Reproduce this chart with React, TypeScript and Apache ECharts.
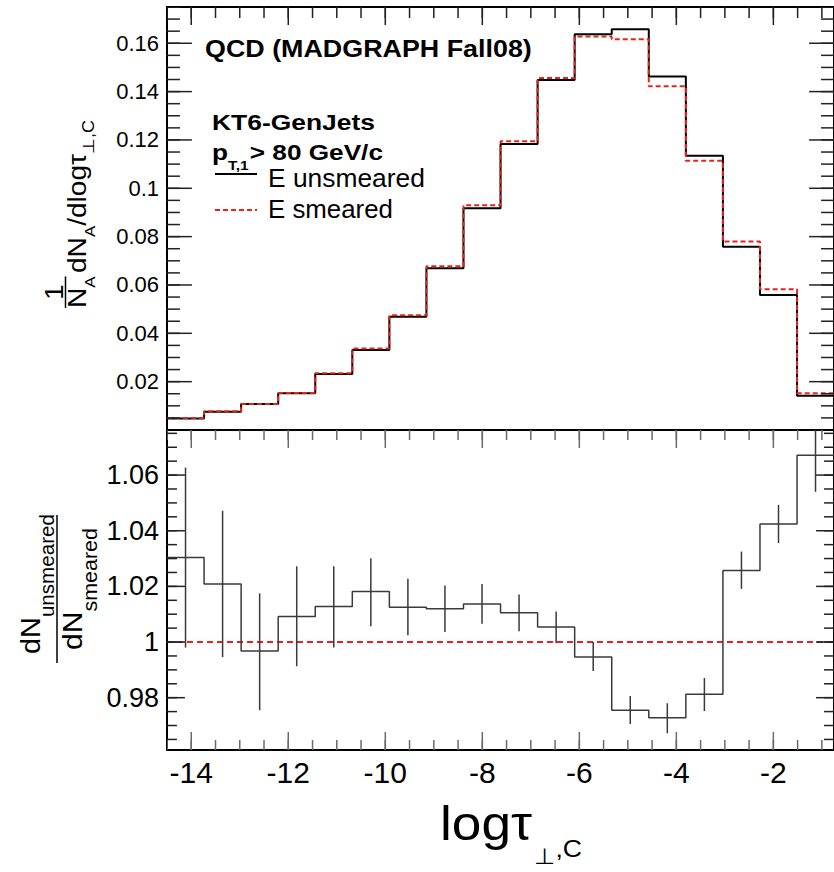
import React, { useEffect, useRef } from 'react';
import * as echarts from 'echarts';

// ---------------- data ----------------
const binEdges = [-14.5, -13.736, -12.972, -12.208, -11.444, -10.68, -9.916, -9.152, -8.388, -7.624, -6.86, -6.096, -5.332, -4.568, -3.804, -3.04, -2.276, -1.512, -0.75];
const unsmeared = [0.0048, 0.0076, 0.0108, 0.0152, 0.0232, 0.0331, 0.0469, 0.0669, 0.0917, 0.1183, 0.1448, 0.1637, 0.1658, 0.1462, 0.1135, 0.0758, 0.0558, 0.0142];
const smeared = [0.00495, 0.00776, 0.01077, 0.01534, 0.0235, 0.0337, 0.0475, 0.0677, 0.093, 0.1195, 0.1456, 0.1628, 0.1617, 0.1422, 0.1114, 0.078, 0.0582, 0.0152];
const ratio = [1.0304, 1.0209, 0.9968, 1.0092, 1.0128, 1.0182, 1.0125, 1.012, 1.0137, 1.0105, 1.0054, 0.9946, 0.9755, 0.9728, 0.9812, 1.0257, 1.0424, 1.0671];
const ratioLow = [0.998, 0.9946, 0.9755, 0.9913, 0.998, 1.0057, 1.0024, 1.0036, 1.0066, 1.0039, 0.9996, 0.9896, 0.9705, 0.9672, 0.9752, 1.0191, 1.0356, 1.054];
const ratioHigh = [1.0627, 1.0472, 1.0175, 1.0272, 1.0272, 1.0301, 1.0227, 1.0203, 1.0209, 1.0171, 1.011, 1.0, 0.9806, 0.978, 0.9871, 1.0325, 1.0493, 1.08];

const xMajorTicks = [-14, -12, -10, -8, -6, -4, -2];
const topYLabels = [0.02, 0.04, 0.06, 0.08, 0.1, 0.12, 0.14, 0.16];
const bottomYLabels = [0.98, 1, 1.02, 1.04, 1.06];

const X_MIN = -14.5;
const X_MAX = -0.75;
const TOP_Y_MIN = 0;
const TOP_Y_MAX = 0.175;
const BOT_Y_MIN = 0.9612;
const BOT_Y_MAX = 1.0762;

function range(a: number, b: number, step: number) {
  const out: number[] = [];
  for (let v = a; v <= b + 1e-9; v += step) out.push(+v.toFixed(4));
  return out;
}
const xMinorTicks = range(-14.5, -1, 0.5);
const topYMinor = range(0.005, 0.175, 0.005);
const bottomYMinor = range(0.965, 1.075, 0.005);

// ---------------- layout ----------------
const GRID_LEFT = 167;
const GRID_WIDTH = 670;
const TOP_GRID = { top: 7, height: 423 };
const BOT_GRID = { top: 430, height: 320 };
// data units per pixel, to express tick lengths (in px) along each axis
const X_PER_PX = (X_MAX - X_MIN) / GRID_WIDTH;
const TOP_Y_PER_PX = (TOP_Y_MAX - TOP_Y_MIN) / TOP_GRID.height;
const BOT_Y_PER_PX = (BOT_Y_MAX - BOT_Y_MIN) / BOT_GRID.height;

// ---------------- text helpers ----------------
const FONT = "'Liberation Sans', Arial, Helvetica, sans-serif";
const RED = '#e8231e';
let mctx: CanvasRenderingContext2D | null = null;
function measure(t: string, size: number, bold = false) {
  if (!mctx) mctx = document.createElement('canvas').getContext('2d');
  if (!mctx) return t.length * size * 0.55;
  mctx.font = `${bold ? 'bold ' : ''}${size}px ${FONT}`;
  return mctx.measureText(t).width;
}
type Part = { t: string; size: number; bold?: boolean; dy?: number; dx?: number };
function textEl(p: Part, x: number, color: string) {
  const font = `${p.bold ? 'bold ' : ''}${p.size}px ${FONT}`;
  return {
    type: 'text',
    x,
    y: (p.dy || 0) - 0.3465 * p.size,
    silent: true,
    style: {
      text: p.t,
      font,
      fill: color,
      textAlign: 'left',
      textVerticalAlign: 'middle',
      align: 'left',
      verticalAlign: 'middle',
    },
  };
}
function runParts(parts: Part[], startX: number, color = '#000') {
  let x = startX;
  const children: any[] = [];
  for (const p of parts) {
    x += p.dx || 0;
    children.push(textEl(p, x, color));
    x += measure(p.t, p.size, !!p.bold);
  }
  return { children, end: x };
}
function runGroup(parts: Part[], x: number, y: number, target: number | null, rotate = false) {
  const r = runParts(parts, 0);
  const s = target ? target / r.end : 1;
  return {
    type: 'group',
    x,
    y,
    rotation: rotate ? Math.PI / 2 : 0,
    scaleX: s,
    silent: true,
    children: r.children,
  };
}

function buildTopYTitle() {
  const wN = measure('N', 25);
  const wA = measure('A', 15);
  const fw = wN + wA;
  const w1 = measure('1', 25);
  const children: any[] = [];
  children.push(textEl({ t: '1', size: 25, dy: -23 }, (fw - w1) / 2, '#000'));
  children.push({
    type: 'line',
    silent: true,
    shape: { x1: 0, y1: -20.5, x2: fw, y2: -20.5 },
    style: { stroke: '#000', lineWidth: 1.5 },
  });
  children.push(textEl({ t: 'N', size: 25 }, 0, '#000'));
  children.push(textEl({ t: 'A', size: 15, dy: 9 }, wN, '#000'));
  const r = runParts(
    [
      { t: 'dN', size: 25 },
      { t: 'A', size: 15, dy: 9 },
      { t: '/dlogτ', size: 25 },
      { t: '⊥,C', size: 16, dy: 8 },
    ],
    fw + 3
  );
  children.push(...r.children);
  return {
    type: 'group',
    x: 86,
    y: 308,
    rotation: Math.PI / 2,
    scaleX: 188 / r.end,
    silent: true,
    children,
  };
}

function buildBottomYTitle() {
  const num = runParts([{ t: 'dN', size: 28 }, { t: 'unsmeared', size: 20, dy: 14 }], 0);
  const den = runParts([{ t: 'dN', size: 28 }, { t: 'smeared', size: 20, dy: 15 }], 0);
  const numLen = 140;
  const denLen = 122;
  return [
    {
      type: 'group', x: 40, y: 584 + numLen / 2, rotation: Math.PI / 2, scaleX: numLen / num.end, silent: true,
      children: num.children,
    },
    {
      type: 'group', x: 82, y: 589 + denLen / 2, rotation: Math.PI / 2, scaleX: denLen / den.end, silent: true,
      children: den.children,
    },
    {
      type: 'line', silent: true,
      shape: { x1: 57, y1: 515, x2: 57, y2: 663 },
      style: { stroke: '#000', lineWidth: 1.5 },
    },
  ];
}

function buildBaseGraphics(): any[] {
  return [
    runGroup([{ t: 'QCD (MADGRAPH Fall08)', size: 23, bold: true }], 205, 57, 327),
    runGroup([{ t: 'KT6-GenJets', size: 22, bold: true }], 212, 130, 163),
    runGroup(
      [
        { t: 'p', size: 22, bold: true },
        { t: 'T,1', size: 13, bold: true, dy: 10 },
        { t: '> 80 GeV/c', size: 22, bold: true, dx: 1 },
      ],
      212,
      160,
      171
    ),
    {
      type: 'line', silent: true,
      shape: { x1: 215, y1: 174, x2: 257, y2: 174 },
      style: { stroke: '#000', lineWidth: 2 },
    },
    runGroup([{ t: 'E unsmeared', size: 25 }], 268, 187, 157),
    {
      type: 'line', silent: true,
      shape: { x1: 215, y1: 210, x2: 257, y2: 210 },
      style: { stroke: RED, lineWidth: 2, lineDash: [5, 3] },
    },
    runGroup([{ t: 'E smeared', size: 25 }], 268, 218, 125),
    buildTopYTitle(),
    ...buildBottomYTitle(),
    runGroup(
      [
        { t: 'logτ', size: 48 },
        { t: '⊥', size: 22, dy: 24, dx: 2 },
        { t: ',C', size: 24, dy: 17 },
      ],
      440,
      840,
      142
    ),
  ];
}

// ---------------- axes helpers ----------------
const frameLine = { show: true, onZero: false, lineStyle: { color: '#000', width: 2 } };
function ax(gridIndex: number, position: string, min: number, max: number, extra: any = {}) {
  return {
    type: 'value',
    gridIndex,
    position,
    min,
    max,
    splitLine: { show: false },
    axisLine: { show: false, onZero: false },
    axisTick: { show: false },
    axisLabel: { show: false },
    ...extra,
  };
}
const fmt = (v: number) => String(+v.toFixed(3));

function stepData(vals: number[]) {
  return binEdges.map((e, i) => [e, vals[Math.min(i, vals.length - 1)]]);
}

// ---- tick marks as custom series, both ends mapped through the axes (like the error bars) ----
// vertical segments: [x, y1, y2]
function vSegSeries(xAxisIndex: number, yAxisIndex: number, data: number[][], color: string) {
  return {
    name: 'xticks',
    type: 'custom',
    xAxisIndex,
    yAxisIndex,
    clip: true,
    z: 5,
    data,
    encode: { x: 0, y: [1, 2] },
    renderItem: (params: any, api: any) => {
      const p1 = api.coord([api.value(0), api.value(1)]);
      const p2 = api.coord([api.value(0), api.value(2)]);
      return {
        type: 'line',
        shape: { x1: p1[0], y1: p1[1], x2: p2[0], y2: p2[1] },
        style: { stroke: color, lineWidth: 1.5 },
      };
    },
  };
}
// horizontal segments: [x1, x2, y]
function hSegSeries(xAxisIndex: number, yAxisIndex: number, data: number[][], color: string) {
  return {
    name: 'yticks',
    type: 'custom',
    xAxisIndex,
    yAxisIndex,
    clip: true,
    z: 5,
    data,
    encode: { x: [0, 1], y: 2 },
    renderItem: (params: any, api: any) => {
      const p1 = api.coord([api.value(0), api.value(2)]);
      const p2 = api.coord([api.value(1), api.value(2)]);
      return {
        type: 'line',
        shape: { x1: p1[0], y1: p1[1], x2: p2[0], y2: p2[1] },
        style: { stroke: color, lineWidth: 1.5 },
      };
    },
  };
}
function xTickData(yMin: number, yMax: number, yPerPx: number, majLen: number, minLen: number, bottomToo: boolean) {
  const out: number[][] = [];
  const add = (v: number, len: number) => {
    out.push([v, yMax, yMax - len * yPerPx]);
    if (bottomToo) out.push([v, yMin, yMin + len * yPerPx]);
  };
  xMinorTicks.forEach((v) => add(v, minLen));
  xMajorTicks.forEach((v) => add(v, majLen));
  return out;
}
function yTickData(majors: number[], minors: number[], majLen: number, minLen: number) {
  const out: number[][] = [];
  const add = (v: number, len: number) => {
    out.push([X_MIN, X_MIN + len * X_PER_PX, v]);
    out.push([X_MAX, X_MAX - len * X_PER_PX, v]);
  };
  minors.forEach((v) => add(v, minLen));
  majors.forEach((v) => add(v, majLen));
  return out;
}

export default function App() {
  const ref = useRef<HTMLDivElement>(null);
  useEffect(() => {
    if (!ref.current) return;
    const chart = echarts.init(ref.current, undefined, { renderer: 'svg' });

    const option: any = {
      animation: false,
      backgroundColor: '#fff',
      grid: [
        { left: GRID_LEFT, top: TOP_GRID.top, width: GRID_WIDTH, height: TOP_GRID.height },
        { left: GRID_LEFT, top: BOT_GRID.top, width: GRID_WIDTH, height: BOT_GRID.height },
      ],
      xAxis: [
        ax(0, 'bottom', X_MIN, X_MAX, { axisLine: frameLine }),
        ax(0, 'top', X_MIN, X_MAX, { axisLine: frameLine }),
        ax(1, 'bottom', X_MIN, X_MAX, {
          axisLine: frameLine,
          axisLabel: { show: true, customValues: xMajorTicks, fontSize: 30, fontFamily: FONT, color: '#000', margin: 7, formatter: fmt },
        }),
      ],
      yAxis: [
        ax(0, 'left', TOP_Y_MIN, TOP_Y_MAX, {
          axisLine: frameLine,
          axisLabel: { show: true, customValues: topYLabels, fontSize: 22, fontFamily: FONT, color: '#000', margin: 8, formatter: fmt },
        }),
        ax(0, 'right', TOP_Y_MIN, TOP_Y_MAX, { axisLine: frameLine }),
        ax(1, 'left', BOT_Y_MIN, BOT_Y_MAX, {
          axisLine: frameLine,
          axisLabel: { show: true, customValues: bottomYLabels, fontSize: 27, fontFamily: FONT, color: '#000', margin: 8, formatter: fmt },
        }),
        ax(1, 'right', BOT_Y_MIN, BOT_Y_MAX, { axisLine: frameLine }),
      ],
      series: [
        {
          name: 'E unsmeared',
          type: 'line',
          xAxisIndex: 0,
          yAxisIndex: 0,
          step: 'end',
          symbol: 'none',
          data: stepData(unsmeared),
          lineStyle: { color: '#000', width: 2 },
          z: 3,
          clip: true,
        },
        {
          name: 'E smeared',
          type: 'line',
          xAxisIndex: 0,
          yAxisIndex: 0,
          step: 'end',
          symbol: 'none',
          data: stepData(smeared),
          lineStyle: { color: RED, width: 2, type: [5, 3] },
          z: 4,
          clip: true,
        },
        {
          name: 'ratio',
          type: 'line',
          xAxisIndex: 2,
          yAxisIndex: 2,
          step: 'end',
          symbol: 'none',
          data: stepData(ratio),
          lineStyle: { color: '#3a3a3a', width: 1.5 },
          z: 3,
          clip: true,
          markLine: {
            silent: true,
            symbol: ['none', 'none'],
            label: { show: false },
            lineStyle: { color: RED, width: 2, type: [6, 4] },
            data: [{ yAxis: 1 }],
            z: 2,
          },
        },
        {
          name: 'ratio errors',
          type: 'custom',
          xAxisIndex: 2,
          yAxisIndex: 2,
          clip: true,
          z: 3,
          data: ratio.map((_, i) => [(binEdges[i] + binEdges[i + 1]) / 2, ratioLow[i], ratioHigh[i]]),
          encode: { x: 0, y: [1, 2] },
          renderItem: (params: any, api: any) => {
            const x = api.value(0);
            const lo = Math.max(api.value(1), BOT_Y_MIN);
            const hi = Math.min(api.value(2), BOT_Y_MAX);
            const p1 = api.coord([x, lo]);
            const p2 = api.coord([x, hi]);
            return {
              type: 'line',
              shape: { x1: p1[0], y1: p1[1], x2: p2[0], y2: p2[1] },
              style: { stroke: '#3a3a3a', lineWidth: 1.5 },
            };
          },
        },
        vSegSeries(0, 0, xTickData(TOP_Y_MIN, TOP_Y_MAX, TOP_Y_PER_PX, 18, 11, false), '#222'),
        hSegSeries(0, 0, yTickData(topYLabels, topYMinor, 25, 13), '#222'),
        vSegSeries(2, 2, xTickData(BOT_Y_MIN, BOT_Y_MAX, BOT_Y_PER_PX, 18, 10, true), '#6a6a6a'),
        hSegSeries(2, 2, yTickData(bottomYLabels, bottomYMinor, 18, 10), '#222'),
      ],
      graphic: { elements: buildBaseGraphics() },
    };
    chart.setOption(option);

    return () => chart.dispose();
  }, []);
  return (
    <div
      ref={ref}
      style={{ position: 'fixed', left: 0, top: 0, width: 834, height: 872, background: '#fff' }}
    />
  );
}
